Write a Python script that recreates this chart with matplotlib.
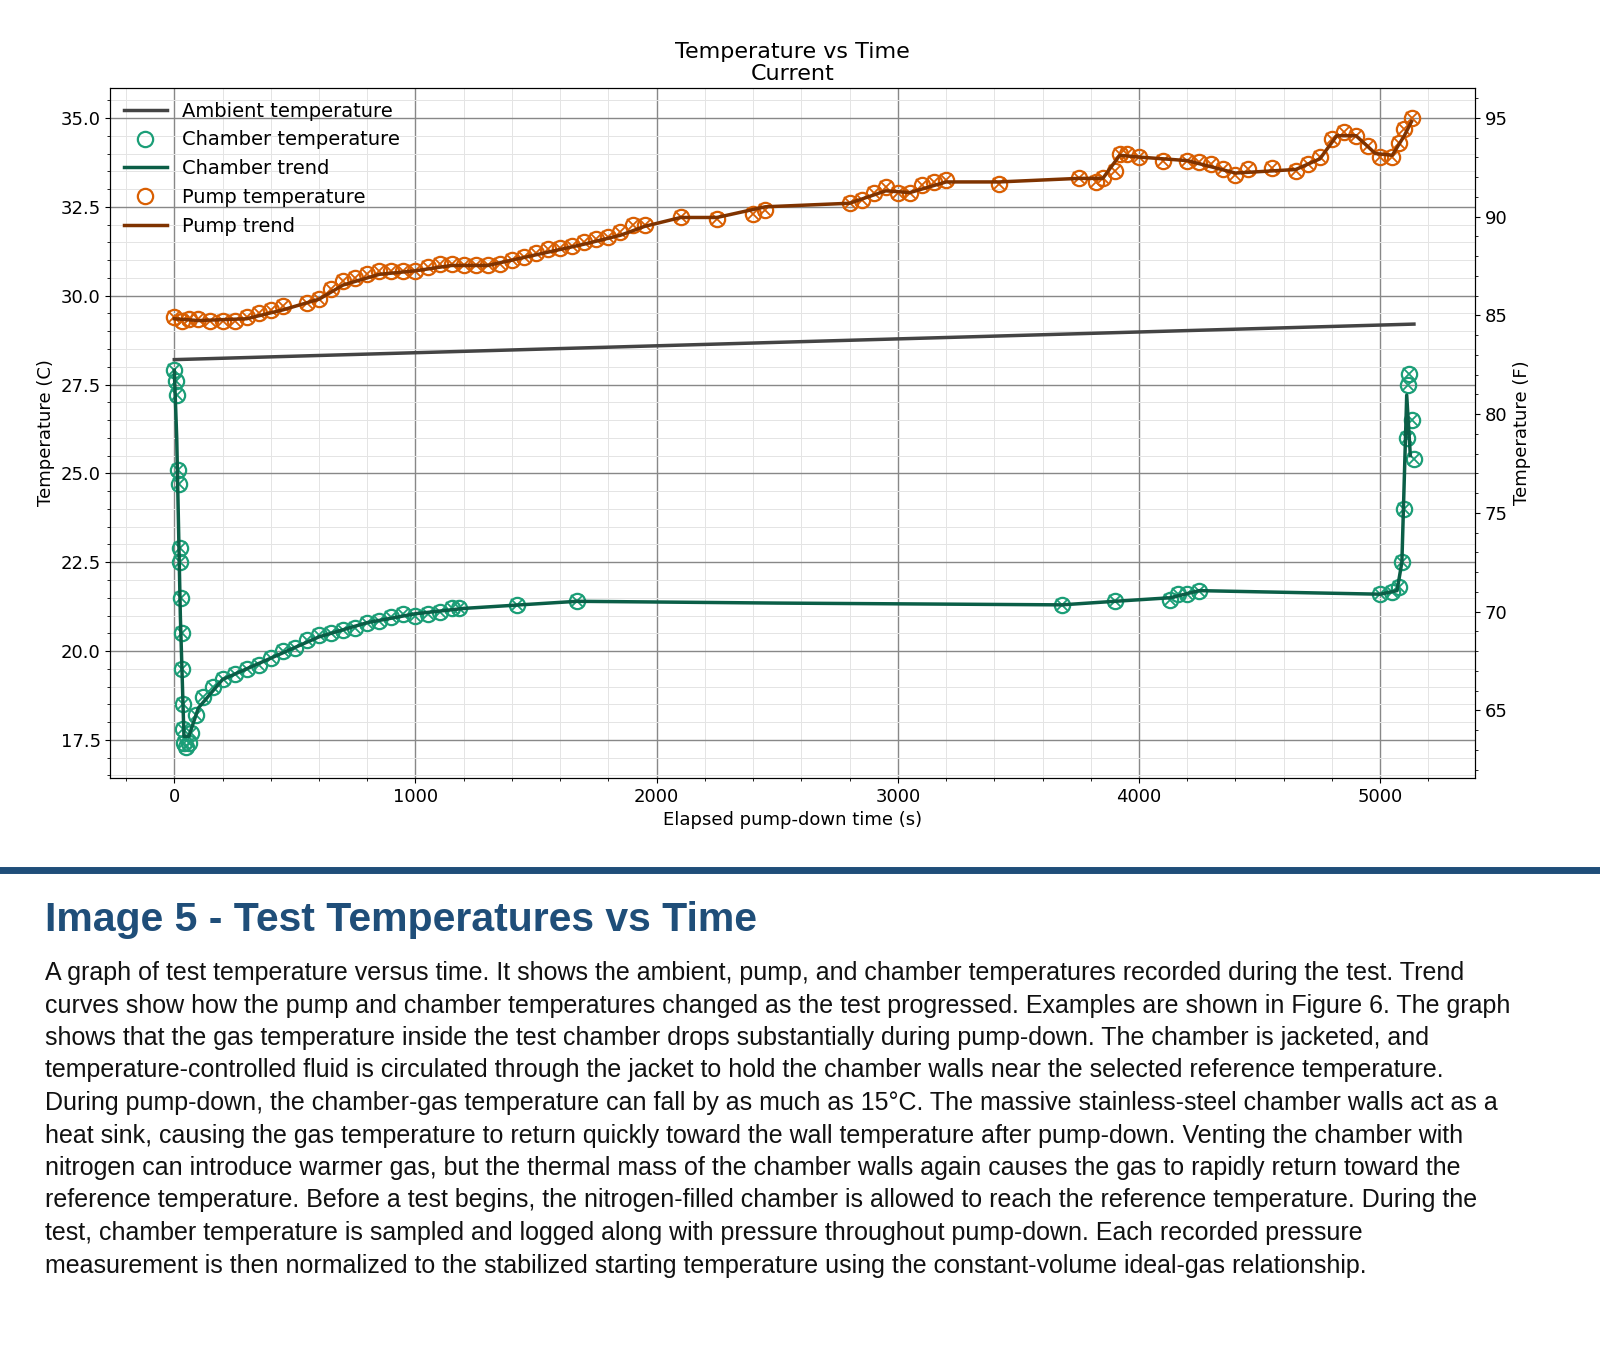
import matplotlib
matplotlib.use("Agg")
import matplotlib.pyplot as plt
from matplotlib.ticker import AutoMinorLocator

pump_t = [0, 30, 60, 100, 150, 200, 250, 300, 350, 400, 450, 550, 600, 650, 700, 750, 800, 850, 900,
          950, 1000, 1050, 1100, 1150, 1200, 1250, 1300, 1350, 1400, 1450, 1500, 1550, 1600, 1650, 1700,
          1750, 1800, 1850, 1900, 1950, 2100, 2250, 2400, 2450, 2800, 2850, 2900, 2950, 3000, 3050, 3100,
          3150, 3200, 3420, 3750, 3820, 3850, 3900, 3920, 3950, 4000, 4100, 4200, 4250, 4300, 4350, 4400,
          4450, 4550, 4650, 4700, 4750, 4800, 4850, 4900, 4950, 5000, 5050, 5080, 5100, 5130]
pump_c = [29.4, 29.3, 29.35, 29.35, 29.3, 29.3, 29.3, 29.4, 29.5, 29.6, 29.7, 29.8, 29.9, 30.2, 30.4,
          30.5, 30.6, 30.7, 30.7, 30.7, 30.7, 30.8, 30.9, 30.9, 30.85, 30.85, 30.85, 30.9, 31.0, 31.1, 31.2,
          31.3, 31.35, 31.4, 31.5, 31.6, 31.65, 31.8, 32.0, 32.0, 32.2, 32.15, 32.3, 32.4, 32.6, 32.7, 32.9,
          33.05, 32.9, 32.9, 33.1, 33.2, 33.25, 33.15, 33.3, 33.2, 33.3, 33.5, 34.0, 34.0, 33.9, 33.8, 33.8,
          33.75, 33.7, 33.55, 33.4, 33.55, 33.6, 33.5, 33.7, 33.9, 34.4, 34.6, 34.5, 34.2, 33.9, 33.9, 34.3,
          34.7, 35.0]
pump_trend_t = [0, 100, 300, 450, 600, 700, 850, 1000, 1150, 1300, 1500, 1700, 1850, 1950, 2100, 2250,
                2450, 2800, 2950, 3050, 3200, 3420, 3750, 3850, 3920, 4000, 4200, 4400, 4650, 4750, 4820,
                4900, 4980, 5050, 5100, 5130]
pump_trend_c = [29.35, 29.3, 29.35, 29.6, 29.9, 30.3, 30.6, 30.7, 30.85, 30.85, 31.15, 31.45, 31.7,
                31.95, 32.2, 32.2, 32.5, 32.6, 32.95, 32.9, 33.2, 33.2, 33.3, 33.3, 33.95, 33.9, 33.8,
                33.45, 33.55, 33.85, 34.5, 34.5, 34.0, 33.95, 34.5, 34.9]
chamber_t = [0, 5, 10, 15, 20, 22, 25, 28, 30, 33, 35, 38, 40, 50, 60, 70, 90, 120, 160, 200, 250, 300,
             350, 400, 450, 500, 550, 600, 650, 700, 750, 800, 850, 900, 950, 1000, 1050, 1100, 1150,
             1180, 1420, 1670, 3680, 3900, 4130, 4160, 4200, 4250, 5000, 5050, 5080, 5090, 5100, 5110,
             5115, 5120, 5130, 5140]
chamber_c = [27.9, 27.6, 27.2, 25.1, 24.7, 22.9, 22.5, 21.5, 20.5, 19.5, 18.5, 17.8, 17.4, 17.3, 17.4,
             17.7, 18.2, 18.7, 19.0, 19.2, 19.35, 19.5, 19.6, 19.8, 20.0, 20.1, 20.3, 20.45, 20.5, 20.6,
             20.65, 20.8, 20.85, 20.95, 21.05, 21.0, 21.05, 21.1, 21.2, 21.2, 21.3, 21.4, 21.3, 21.4,
             21.45, 21.6, 21.6, 21.7, 21.6, 21.65, 21.8, 22.5, 24.0, 26.0, 27.5, 27.8, 26.5, 25.4]
chamber_trend_t = [0, 10, 25, 40, 60, 100, 200, 400, 600, 800, 1000, 1200, 1670, 2500, 3680, 3900,
                   4130, 4250, 5000, 5070, 5090, 5110, 5125]
chamber_trend_c = [27.9, 26.0, 21.0, 17.6, 17.6, 18.4, 19.2, 19.8, 20.4, 20.8, 21.05, 21.2, 21.4,
                   21.35, 21.3, 21.4, 21.5, 21.7, 21.6, 21.7, 22.5, 27.2, 25.5]
ambient_t = [0, 5140]
ambient_c = [28.2, 29.2]

heading = "Image 5 - Test Temperatures vs Time"
body = [
    "A graph of test temperature versus time. It shows the ambient, pump, and chamber temperatures recorded during the test. Trend",
    "curves show how the pump and chamber temperatures changed as the test progressed. Examples are shown in Figure 6. The graph",
    "shows that the gas temperature inside the test chamber drops substantially during pump-down. The chamber is jacketed, and",
    "temperature-controlled fluid is circulated through the jacket to hold the chamber walls near the selected reference temperature.",
    "During pump-down, the chamber-gas temperature can fall by as much as 15°C. The massive stainless-steel chamber walls act as a",
    "heat sink, causing the gas temperature to return quickly toward the wall temperature after pump-down. Venting the chamber with",
    "nitrogen can introduce warmer gas, but the thermal mass of the chamber walls again causes the gas to rapidly return toward the",
    "reference temperature. Before a test begins, the nitrogen-filled chamber is allowed to reach the reference temperature. During the",
    "test, chamber temperature is sampled and logged along with pressure throughout pump-down. Each recorded pressure",
    "measurement is then normalized to the stabilized starting temperature using the constant-volume ideal-gas relationship.",
]

GREEN, GREEN_D = "#1b9e77", "#0b5e47"
ORANGE, ORANGE_D = "#d95f02", "#7f3300"

fig = plt.figure(figsize=(16, 13.66), dpi=100)
ax = fig.add_axes([0.069, 0.4305, 0.853, 0.505])
ax.plot(ambient_t, ambient_c, color="#444444", lw=2.5, label="Ambient temperature")
ax.plot(chamber_t, chamber_c, "o", mfc="none", mec=GREEN, ms=11, mew=1.6, label="Chamber temperature")
ax.plot(chamber_t, chamber_c, "x", color=GREEN, ms=8, mew=1.3)
ax.plot(chamber_trend_t, chamber_trend_c, color=GREEN_D, lw=2.5, label="Chamber trend")
ax.plot(pump_t, pump_c, "o", mfc="none", mec=ORANGE, ms=11, mew=1.6, label="Pump temperature")
ax.plot(pump_t, pump_c, "x", color=ORANGE, ms=8, mew=1.3)
ax.plot(pump_trend_t, pump_trend_c, color=ORANGE_D, lw=2.5, label="Pump trend")

ax.set_xlim(-265, 5394)
ax.set_ylim(16.43, 35.84)
ax.xaxis.set_minor_locator(AutoMinorLocator(5))
ax.yaxis.set_minor_locator(AutoMinorLocator(5))
ax.grid(True, which="major", color="#888888", lw=1)
ax.grid(True, which="minor", color="#e4e4e4", lw=0.7)
ax.set_axisbelow(True)
ax.tick_params(labelsize=13)
ax.set_xlabel("Elapsed pump-down time (s)", fontsize=13)
ax.set_ylabel("Temperature (C)", fontsize=13)
ax.set_title("Temperature vs Time\nCurrent", fontsize=16, linespacing=1.1)
ax.legend(loc="upper left", fontsize=14, frameon=False, borderaxespad=0.3, handlelength=2.2)

ax2 = ax.twinx()
lo, hi = ax.get_ylim()
ax2.set_ylim(lo * 9 / 5 + 32, hi * 9 / 5 + 32)
ax2.yaxis.set_minor_locator(AutoMinorLocator(5))
ax2.tick_params(labelsize=13)
ax2.set_ylabel("Temperature (F)", fontsize=13)

fig.add_artist(plt.Line2D([0, 1], [1 - 870 / 1366] * 2, color="#1f4e79", lw=5))
fig.text(45 / 1600, 1 - 920 / 1366, heading, fontsize=29.5, fontweight="bold", color="#1f4e79",
         family="Liberation Sans", va="center")
for i, line in enumerate(body):
    fig.text(45 / 1600, 1 - (973 + 32.5 * i) / 1366, line, fontsize=18, color="#111111",
             family="Liberation Sans", va="center")

fig.savefig("out.png", dpi=100)
